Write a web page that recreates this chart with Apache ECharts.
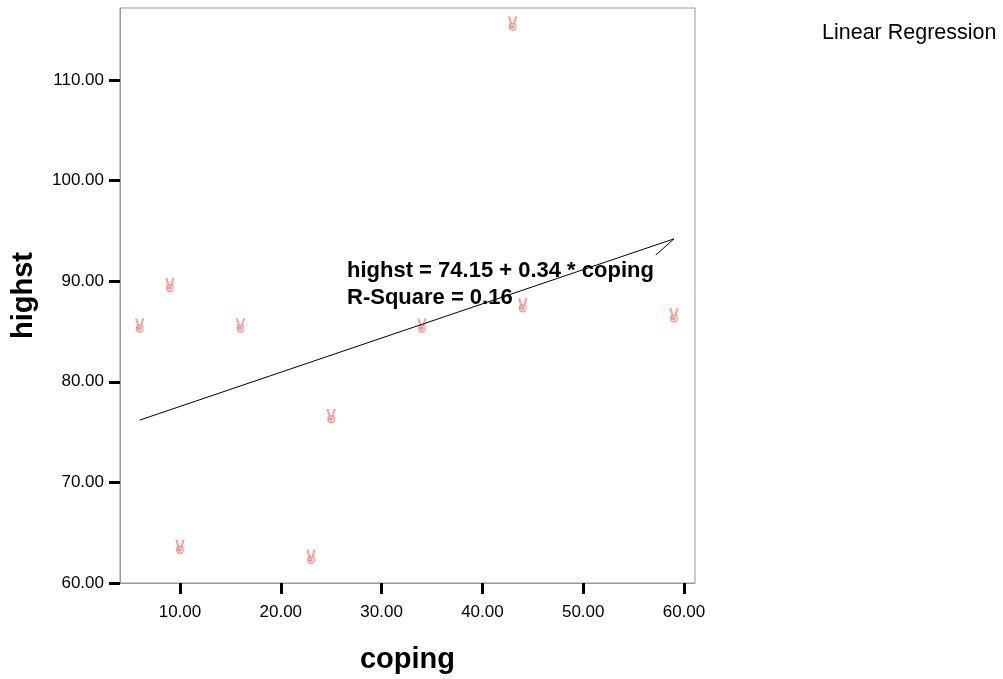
<!DOCTYPE html>
<html>
<head>
<meta charset="utf-8">
<script src="https://cdn.jsdelivr.net/npm/echarts@6/dist/echarts.min.js"></script>
<style>html,body{margin:0;padding:0;background:#fff}#c{width:1003px;height:679px}</style>
</head>
<body>
<div id="c"></div>
<script>
// Data
const coping = [6, 9, 10, 16, 23, 25, 34, 43, 44, 59];
const highst = [85, 89, 63, 85, 62, 76, 85, 115, 87, 86];
const fitX = [6, 59, 57.2];
const fitY = [76.19, 94.21, 92.6];
const xTicks = [10, 20, 30, 40, 50, 60];
const yTicks = [60, 70, 80, 90, 100, 110];
const equationText = 'highst = 74.15 + 0.34 * coping';
const rsqText = 'R-Square = 0.16';
const legendText = 'Linear Regression';

const victoryPath = 'path://M2 0 L4 0 L7 12 L5 12 Z M13 0 L15 0 L12 12 L10 12 Z M3 15 C3 11 14 11 14 15 L14 19 C14 26 3 26 3 19 Z M3 16 L10 16 L10 19 L3 19 Z';

const chart = echarts.init(document.getElementById('c'));
const F = '"Liberation Sans", Arial, sans-serif';
chart.setOption({
  animation: false,
  backgroundColor: '#fff',
  grid: {left: 120, top: 8, width: 575, height: 575, show: true, borderColor: '#999', borderWidth: 1, backgroundColor: 'transparent'},
  xAxis: {
    type: 'value', min: 4.05, max: 61.09,
    name: 'coping', nameLocation: 'middle', nameGap: 62,
    nameTextStyle: {fontFamily: F, fontSize: 29, fontWeight: 'bold', color: '#000'},
    axisLine: {show: true, lineStyle: {color: '#999', width: 1}},
    axisTick: {show: true, customValues: xTicks, length: 11, lineStyle: {color: '#000', width: 3}},
    axisLabel: {customValues: xTicks, formatter: v => v.toFixed(2), fontFamily: F, fontSize: 17, color: '#000', margin: 21},
    splitLine: {show: false}
  },
  yAxis: {
    type: 'value', min: 60, max: 117.16,
    name: 'highst', nameLocation: 'middle', nameGap: 82, nameRotate: 90,
    nameTextStyle: {fontFamily: F, fontSize: 29, fontWeight: 'bold', color: '#000'},
    axisLine: {show: true, lineStyle: {color: '#999', width: 1}},
    axisTick: {show: true, customValues: yTicks, length: 11, lineStyle: {color: '#000', width: 3}},
    axisLabel: {customValues: yTicks, formatter: v => v.toFixed(2), fontFamily: F, fontSize: 17, color: '#000', margin: 16},
    splitLine: {show: false}
  },
  graphic: [
    {type: 'text', x: 822, y: 33, style: {text: legendText, font: '21.5px ' + F, fill: '#000', verticalAlign: 'middle'}},
    {type: 'text', x: 347, y: 271, z: 1, style: {text: equationText, font: 'bold 22px ' + F, fill: '#000', verticalAlign: 'middle'}},
    {type: 'text', x: 347, y: 298, z: 1, style: {text: rsqText, font: 'bold 22px ' + F, fill: '#000', verticalAlign: 'middle'}}
  ],
  series: [
    {
      type: 'line', z: 5,
      data: fitX.map((x, i) => [x, fitY[i]]),
      symbol: 'none',
      lineStyle: {color: '#000', width: 1}
    },
    {
      type: 'scatter', z: 4,
      data: coping.map((x, i) => [x, highst[i]]),
      symbol: victoryPath,
      symbolSize: [8, 13],
      symbolOffset: [0, -6],
      itemStyle: {color: 'rgba(255,190,190,0.5)', borderColor: '#f07575', borderWidth: 1}
    }
  ]
});
</script>
</body>
</html>
